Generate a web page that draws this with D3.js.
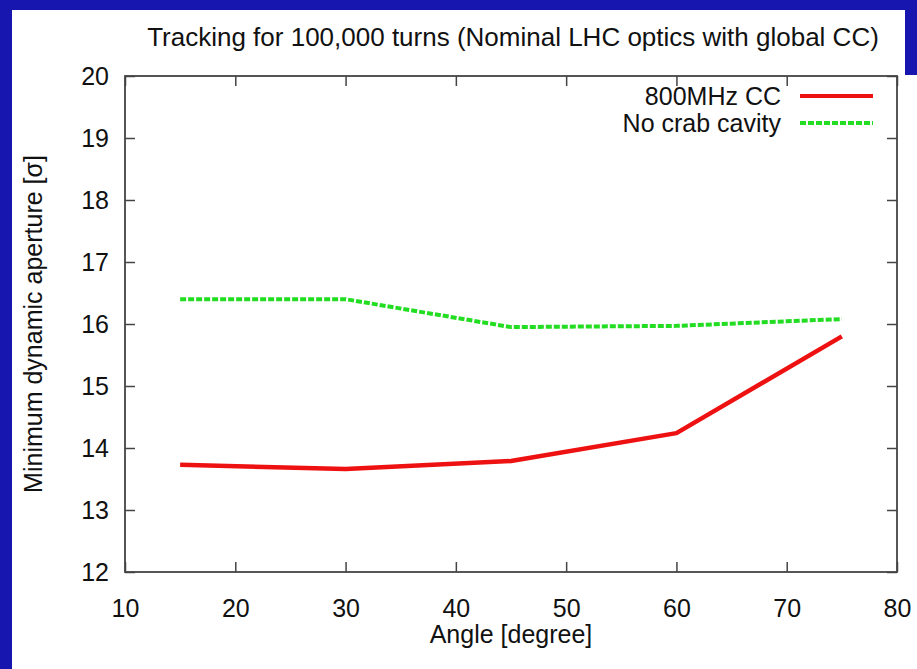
<!DOCTYPE html>
<html>
<head>
<meta charset="utf-8">
<script src="https://cdn.jsdelivr.net/npm/d3@7"></script>
<style>
  html, body { margin: 0; padding: 0; background: #1616ad; }
  svg { display: block; }
  text { font-family: "Liberation Sans", Arial, sans-serif; fill: #111; }
</style>
</head>
<body>
<script>
// Angle of the crossing (degrees) and minimum dynamic aperture (sigma)
const angles = [15, 30, 45, 60, 75];
const withCrabCavity = [13.73, 13.66, 13.79, 14.24, 15.80];
const noCrabCavity = [16.40, 16.40, 15.95, 15.97, 16.08];
const xTicks = [10, 20, 30, 40, 50, 60, 70, 80];
const yTicks = [12, 13, 14, 15, 16, 17, 18, 19, 20];
const seriesNames = ["800MHz CC", "No crab cavity"];

const W = 917, H = 669;
const frame = { left: 125, right: 897, top: 76, bottom: 572 };
const fontSize = 25;

const svg = d3.select("body").append("svg").attr("width", W).attr("height", H);

// slide background and white panel
svg.append("rect").attr("width", W).attr("height", H).attr("fill", "#1717b0");
svg.append("rect").attr("x", 12).attr("y", 10).attr("width", 893).attr("height", H - 10).attr("fill", "#fff");
svg.append("rect").attr("x", 12).attr("y", 75).attr("width", W - 12).attr("height", H - 75).attr("fill", "#fff");

const x = d3.scaleLinear().domain([10, 80]).range([frame.left, frame.right]);
const y = d3.scaleLinear().domain([12, 20]).range([frame.bottom, frame.top]);

const tickLen = 10;
const axisColor = "#444";

// ticks on all four sides, pointing inward
const bottomAxis = d3.axisBottom(x).tickValues(xTicks).tickSize(-tickLen).tickPadding(27).tickFormat(d3.format("d"));
const topAxis = d3.axisTop(x).tickValues(xTicks).tickSize(-tickLen).tickFormat("");
const leftAxis = d3.axisLeft(y).tickValues(yTicks).tickSize(-tickLen).tickPadding(16).tickFormat(d3.format("d"));
const rightAxis = d3.axisRight(y).tickValues(yTicks).tickSize(-tickLen).tickFormat("");

function styleAxis(g) {
  g.select(".domain").remove();
  g.selectAll(".tick line").attr("stroke", axisColor).attr("stroke-width", 1.5);
  g.selectAll(".tick text").attr("font-size", fontSize).attr("font-family", "Liberation Sans, Arial, sans-serif").attr("fill", "#111");
}

svg.append("g").attr("transform", `translate(0,${frame.bottom})`).call(bottomAxis).call(styleAxis)
  .selectAll(".tick text").attr("dy", "0.71em");
svg.append("g").attr("transform", `translate(0,${frame.top})`).call(topAxis).call(styleAxis);
svg.append("g").attr("transform", `translate(${frame.left},0)`).call(leftAxis).call(styleAxis);
svg.append("g").attr("transform", `translate(${frame.right},0)`).call(rightAxis).call(styleAxis);

// plot frame
svg.append("rect")
  .attr("x", frame.left).attr("y", frame.top)
  .attr("width", frame.right - frame.left).attr("height", frame.bottom - frame.top)
  .attr("fill", "none").attr("stroke", axisColor).attr("stroke-width", 1.8);

// data lines
const line = d3.line().x(d => x(d[0])).y(d => y(d[1]));
const red = angles.map((a, i) => [a, withCrabCavity[i]]);
const green = angles.map((a, i) => [a, noCrabCavity[i]]);

svg.append("path").datum(green).attr("d", line)
  .attr("fill", "none").attr("stroke", "#22dd22").attr("stroke-width", 4)
  .attr("stroke-dasharray", "6,2");
svg.append("path").datum(red).attr("d", line)
  .attr("fill", "none").attr("stroke", "#ee1111").attr("stroke-width", 4.5)
  .attr("stroke-linejoin", "round");

// legend
const legend = [
  { name: seriesNames[0], color: "#ee1111", dash: null, y: 96 },
  { name: seriesNames[1], color: "#22dd22", dash: "6,2", y: 123 }
];
legend.forEach(l => {
  svg.append("text").attr("x", 781).attr("y", l.y).attr("dy", "0.35em")
    .attr("text-anchor", "end").attr("font-size", fontSize).text(l.name);
  svg.append("line").attr("x1", 800).attr("x2", 873).attr("y1", l.y).attr("y2", l.y)
    .attr("stroke", l.color).attr("stroke-width", 4)
    .attr("stroke-dasharray", l.dash);
});

// titles
svg.append("text").attr("x", (150 + 876) / 2).attr("y", 46)
  .attr("text-anchor", "middle").attr("font-size", 26)
  .text("Tracking for 100,000 turns (Nominal LHC optics with global CC)");
svg.append("text").attr("x", (frame.left + frame.right) / 2).attr("y", 643)
  .attr("text-anchor", "middle").attr("font-size", fontSize)
  .text("Angle [degree]");
svg.append("text")
  .attr("transform", `translate(42,${(frame.top + frame.bottom) / 2}) rotate(-90)`)
  .attr("text-anchor", "middle").attr("font-size", fontSize)
  .text("Minimum dynamic aperture [σ]");
</script>
</body>
</html>
